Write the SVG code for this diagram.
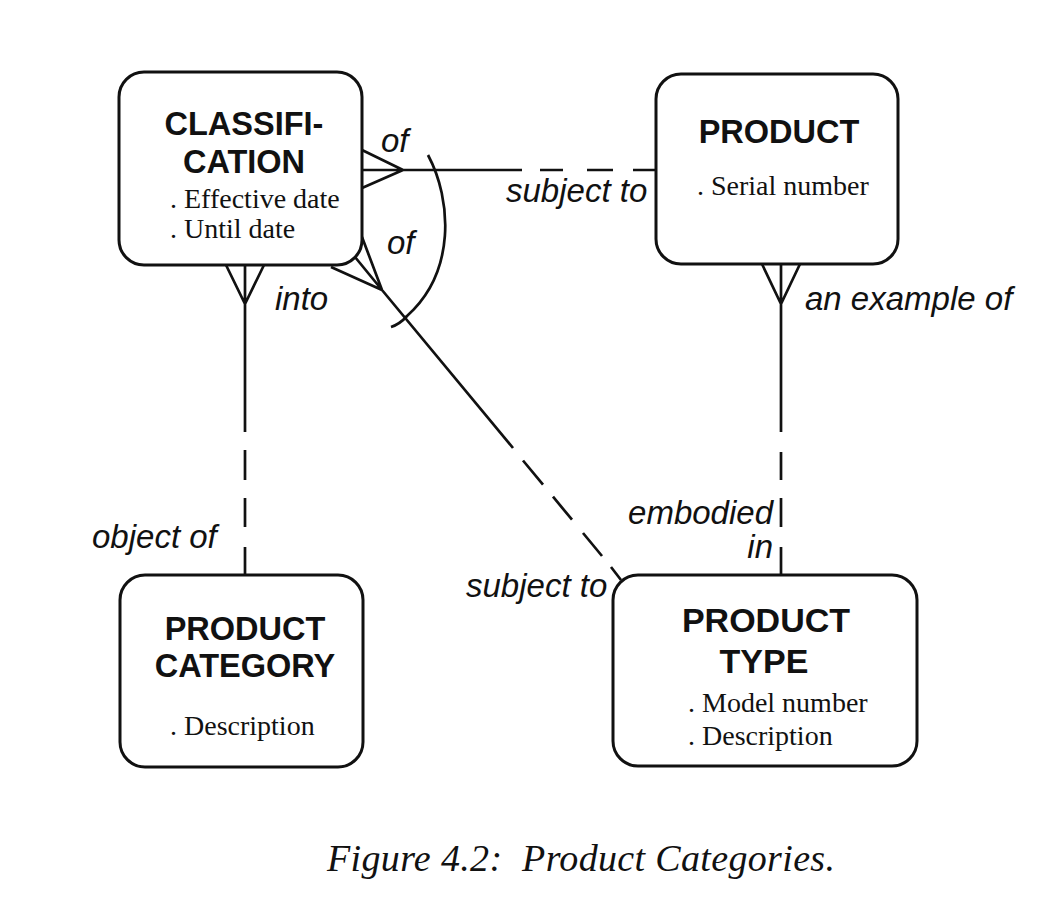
<svg xmlns="http://www.w3.org/2000/svg" width="1058" height="908" viewBox="0 0 1058 908">
<style>
.box{fill:#fff;stroke:#111;stroke-width:3}
.ln{fill:none;stroke:#111;stroke-width:2.7;stroke-linecap:butt}
.title{font-family:"Liberation Sans",Arial,sans-serif;font-weight:bold;font-size:32.5px;fill:#111;text-anchor:middle}
.attr{font-family:"Liberation Serif","Times New Roman",serif;font-size:28px;fill:#111}
.lbl{font-family:"Liberation Sans",Arial,sans-serif;font-style:italic;font-size:33px;fill:#111}
.cap{font-family:"Liberation Serif","Times New Roman",serif;font-style:italic;font-size:38px;fill:#111}
</style>
<rect width="1058" height="908" fill="#fff"/>
<g id="connectors">
  <path class="ln" d="M362,150 L403,170 M362,188 L403,170 M362,170 L522,170 M540,170 L563,170 M587,170 L613,170 M633,170 L656,170"/>
  <path class="ln" d="M428,155 C452,200 456,272 407,316 Q400,324 391,327"/>
  <path class="ln" d="M362,237 L382,290 M355,257 L382,290 M331,267 L382,290 M382,290 L513,448 M523,460.5 L543,484.6 M553,496.7 L572,519.7 M583,533 L602,556 M611,567 L621,580"/>
  <path class="ln" d="M226,265 L245,304 M264,265 L245,304 M245,265 L245,432 M245,450 L245,480 M245,498 L245,527 M245,547 L245,575"/>
  <path class="ln" d="M762,264 L781,304 M800,264 L781,304 M781,264 L781,432 M781,452 L781,480 M781,498 L781,527 M781,547 L781,575"/>
</g>
<g id="labels">
  <text class="lbl" x="381" y="152">of</text>
  <text class="lbl" x="506" y="202">subject to</text>
  <text class="lbl" x="387" y="254">of</text>
  <text class="lbl" x="275" y="310">into</text>
  <text class="lbl" x="805" y="310">an example of</text>
  <text class="lbl" x="92" y="548">object of</text>
  <text class="lbl" x="773" y="524" text-anchor="end">embodied</text>
  <text class="lbl" x="773" y="558" text-anchor="end">in</text>
  <text class="lbl" x="466" y="597">subject to</text>
</g>
<g id="classification">
  <rect class="box" x="119" y="72" width="243" height="193" rx="25"/>
  <text class="title" x="244" y="135">CLASSIFI-</text>
  <text class="title" x="244" y="173">CATION</text>
  <text class="attr" x="170" y="208">. Effective date</text>
  <text class="attr" x="170" y="238">. Until date</text>
</g>
<g id="product">
  <rect class="box" x="656" y="74" width="242" height="190" rx="25"/>
  <text class="title" x="779" y="143">PRODUCT</text>
  <text class="attr" x="697" y="195">. Serial number</text>
</g>
<g id="product-category">
  <rect class="box" x="120" y="575" width="243" height="192" rx="25"/>
  <text class="title" x="245" y="640">PRODUCT</text>
  <text class="title" x="245" y="677">CATEGORY</text>
  <text class="attr" x="170" y="735">. Description</text>
</g>
<g id="product-type">
  <rect class="box" x="613" y="575" width="304" height="191" rx="25"/>
  <text class="title" x="766" y="632" style="font-size:34px">PRODUCT</text>
  <text class="title" x="764" y="673" style="font-size:34px">TYPE</text>
  <text class="attr" x="688" y="712">. Model number</text>
  <text class="attr" x="688" y="745">. Description</text>
</g>
<text class="cap" x="327" y="871" xml:space="preserve" textLength="508" lengthAdjust="spacing">Figure 4.2:  Product Categories.</text>
</svg>
